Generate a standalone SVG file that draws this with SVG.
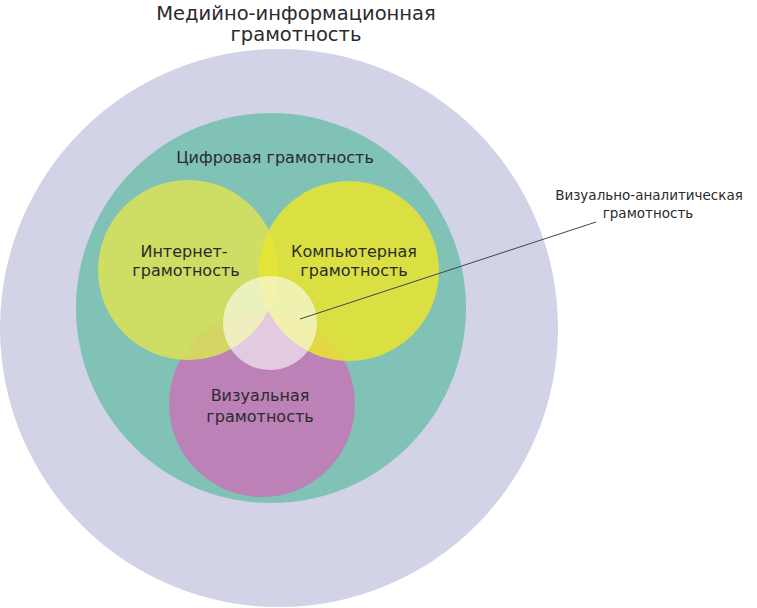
<svg xmlns="http://www.w3.org/2000/svg" width="757" height="608" viewBox="0 0 757 608">
<style>
text{font-family:"DejaVu Sans","Open Sans",sans-serif;fill:#2b2b2b;text-anchor:middle}
.t{font-size:19.5px}
.m{font-size:16px}
.s{font-size:13.5px}
</style>
<rect width="757" height="608" fill="#ffffff"/>
<g id="media">
<circle cx="279" cy="328" r="279" fill="#d3d3e8"/>
<text class="t" x="296" y="20">Медийно-информационная</text>
<text class="t" x="296" y="41">грамотность</text>
</g>
<g id="digital">
<circle cx="271" cy="308" r="195" fill="#80c2b6"/>
<text class="m" x="275" y="163">Цифровая грамотность</text>
</g>
<g id="visual">
<circle cx="262" cy="404" r="93" fill="#bc82b7"/>
</g>
<g id="internet">
<circle cx="188" cy="270" r="90" fill="#d8e058" fill-opacity="0.88"/>
</g>
<g id="computer">
<circle cx="349" cy="271" r="90" fill="#e6e432" fill-opacity="0.88"/>
</g>
<g id="analytic">
<circle cx="270" cy="323" r="47" fill="#ffffff" fill-opacity="0.58"/>
</g>
<g id="labels">
<text class="m" x="184" y="257">Интернет-</text>
<text class="m" x="186" y="276">грамотность</text>
<text class="m" x="354" y="257">Компьютерная</text>
<text class="m" x="354" y="276">грамотность</text>
<text class="m" x="260" y="401">Визуальная</text>
<text class="m" x="260" y="422">грамотность</text>
<text class="s" x="649" y="200">Визуально-аналитическая</text>
<text class="s" x="648" y="218">грамотность</text>
</g>
<g id="connectors">
<line x1="300" y1="319" x2="596" y2="222" stroke="#3a4657" stroke-width="1"/>
</g>
</svg>
